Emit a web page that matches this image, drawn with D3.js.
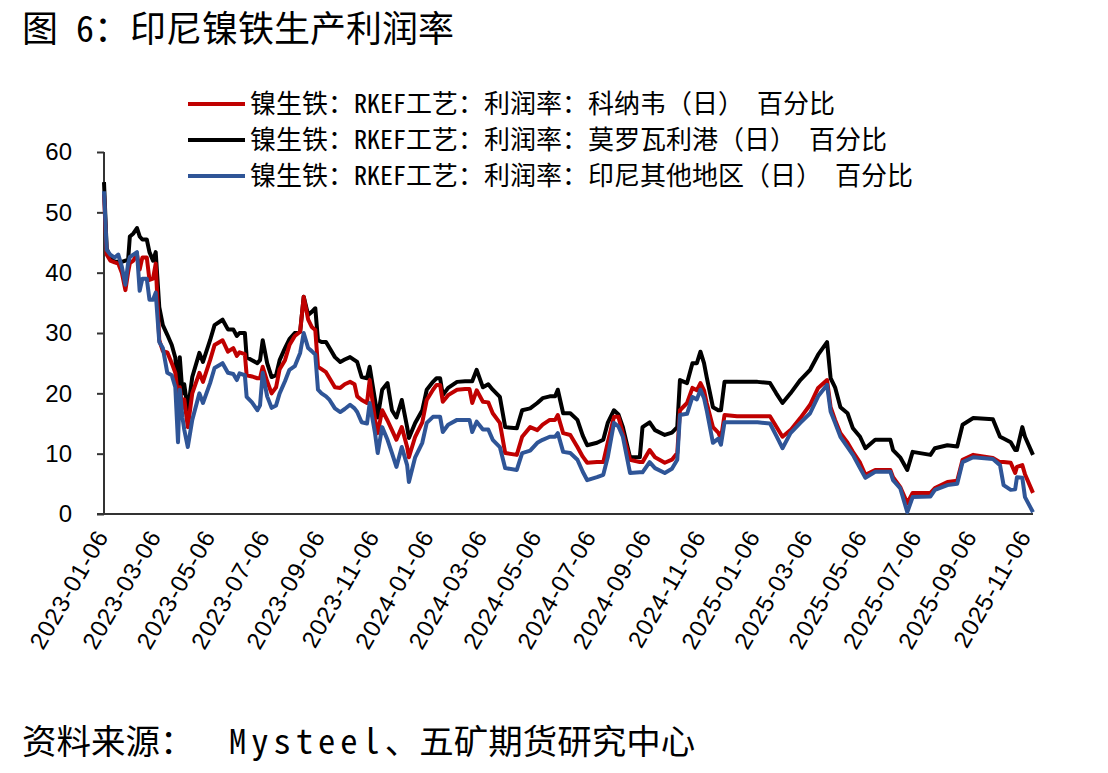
<!DOCTYPE html>
<html>
<head>
<meta charset="utf-8">
<script src="https://cdn.jsdelivr.net/npm/d3@7"></script>
<style>
  body { margin: 0; background: #fff; }
  svg text { font-family: "Liberation Sans", Arial, sans-serif; }
  .cjk { font-family: "Noto Sans Mono CJK SC", "Noto Sans CJK SC", sans-serif !important; white-space: pre; }
</style>
</head>
<body>
<div id="chart"></div>
<script>
var dates = [
  "2023-01-06","2023-01-09","2023-01-13","2023-01-18","2023-01-22","2023-01-26","2023-01-30","2023-02-02","2023-02-04","2023-02-08",
  "2023-02-12","2023-02-15","2023-02-18","2023-02-23","2023-02-26","2023-03-02","2023-03-05","2023-03-09","2023-03-13","2023-03-18",
  "2023-03-23","2023-03-27","2023-03-30","2023-04-01","2023-04-04","2023-04-06","2023-04-10","2023-04-15","2023-04-23","2023-04-27",
  "2023-05-05","2023-05-10","2023-05-19","2023-05-25","2023-05-31","2023-06-04","2023-06-07","2023-06-13","2023-06-15","2023-06-21",
  "2023-06-27","2023-06-30","2023-07-03","2023-07-08","2023-07-13","2023-07-18","2023-07-22","2023-07-28","2023-08-02","2023-08-08",
  "2023-08-14","2023-08-18","2023-08-23","2023-08-27","2023-08-31","2023-09-03","2023-09-07","2023-09-12","2023-09-16","2023-09-22",
  "2023-09-28","2023-10-03","2023-10-09","2023-10-14","2023-10-17","2023-10-22","2023-10-28","2023-10-31","2023-11-06","2023-11-09",
  "2023-11-14","2023-11-20","2023-11-25","2023-11-30","2023-12-06","2023-12-12","2023-12-14","2023-12-21","2023-12-29","2024-01-03",
  "2024-01-10","2024-01-14","2024-01-18","2024-01-21","2024-01-27","2024-02-06","2024-02-15","2024-02-20","2024-02-23","2024-02-28",
  "2024-03-06","2024-03-12","2024-03-17","2024-03-25","2024-03-31","2024-04-13","2024-04-19","2024-04-28","2024-05-06","2024-05-12",
  "2024-05-20","2024-05-26","2024-05-29","2024-06-04","2024-06-12","2024-06-20","2024-06-26","2024-07-01","2024-07-12","2024-07-19",
  "2024-07-24","2024-07-31","2024-08-05","2024-08-10","2024-08-18","2024-08-29","2024-09-01","2024-09-09","2024-09-15","2024-09-26",
  "2024-10-04","2024-10-10","2024-10-13","2024-10-21","2024-10-27","2024-11-01","2024-11-05","2024-11-09","2024-11-12","2024-11-19",
  "2024-11-25","2024-11-28","2024-12-02","2024-12-16","2025-01-08","2025-01-22","2025-01-29","2025-02-05","2025-02-14","2025-02-25",
  "2025-03-08","2025-03-17","2025-03-27","2025-03-31","2025-04-05","2025-04-11","2025-04-19","2025-04-25","2025-05-03","2025-05-09",
  "2025-05-20","2025-06-06","2025-06-09","2025-06-17","2025-06-25","2025-07-01","2025-07-21","2025-07-26","2025-08-09","2025-08-20",
  "2025-08-26","2025-09-07","2025-09-29","2025-10-07","2025-10-11","2025-10-19","2025-10-24","2025-10-26","2025-11-01","2025-11-04",
  "2025-11-13"
];

// 科纳韦 (red)
var konawe = [
  53, 43, 42, 41.7, 41.5, 40, 37.1, 40, 41.6, 42,
  43, 40.5, 42.5, 42.5, 38.8, 39, 41.5, 28.8, 27, 26.8,
  25, 23.4, 19.4, 21, 17.6, 19, 14.4, 20, 23.4, 21.9,
  25.5, 28, 28.8, 26.9, 27.5, 26.2, 26.8, 26.5, 23, 22.8,
  22.5, 22.5, 24.4, 22, 20, 21, 24, 25.5, 28, 29.5,
  30.2, 36, 32.2, 31, 30.5, 24.4, 24, 23.5, 22.5, 21,
  20.9, 21.5, 21.9, 21.5, 19.5, 18.9, 18.4, 22.2, 15.6, 13.4,
  17.2, 15.5, 13.9, 12.3, 14.4, 11.1, 9.4, 12.8, 15.2, 18.9,
  20.6, 21.4, 21.4, 18.6, 19.7, 20.6, 20.7, 20.7, 18.4, 20.5,
  18.6, 18.5, 16.7, 15.1, 10.1, 9.8, 12.8, 14.4, 13.9, 14.8,
  15.6, 15.6, 16.4, 13.4, 13.1, 11.1, 9.5, 8.5, 8.6, 8.6,
  11.8, 16.1, 16.1, 13.4, 9, 8.6, 8.6, 10.6, 9.4, 8.5,
  9, 10.1, 17.2, 18.4, 20.9, 20.5, 21.7, 20.5, 18.4, 14.4,
  13.5, 12.5, 16.4, 16.2, 16.2, 16.2, 14.5, 12.8, 13.9, 15.9,
  18.1, 20.9, 22.2, 17.7, 15.6, 13.4, 11.8, 10.3, 8.5, 6.5,
  7.3, 7.3, 6.1, 4.5, 1.8, 3.5, 3.5, 4.3, 5.3, 5.5,
  9, 9.8, 9.3, 8.6, 8.6, 8.5, 6.8, 7.8, 8.1, 6.6,
  3.5
];

// 莫罗瓦利港 (black)
var morowali = [
  55, 44, 42.5, 41.8, 41.8, 41.8, 42, 42, 46, 46.5,
  47.4, 46, 45.5, 45.5, 43.4, 42, 43.4, 34.3, 31.3, 29.7,
  28, 25.9, 20.6, 26, 20, 21.5, 17.2, 22.7, 26.7, 25.2,
  28.8, 31.3, 32.2, 30.6, 30.6, 29.5, 30, 30, 26, 25.5,
  25, 25.5, 28.8, 25, 22.7, 23, 25.5, 27.5, 29, 30,
  30.2, 36, 33, 33.5, 34.1, 28.8, 28.5, 28.5, 27.5, 26,
  25.2, 25.6, 26, 25.5, 25.2, 22.7, 22.5, 24.4, 18.9, 16,
  20.6, 21.7, 17.2, 16, 18.9, 14.4, 12.6, 15.1, 17.2, 20.6,
  21.9, 22.5, 22.5, 19.7, 20.9, 21.9, 22, 22, 22, 23.9,
  21, 21.5, 20.6, 19.4, 14.4, 14.2, 17.2, 17.5, 18.4, 19.2,
  19.5, 19.5, 20.6, 16.7, 16.7, 15.6, 13, 11.4, 11.8, 12.3,
  15.1, 17.2, 16.5, 14.4, 9.4, 9.4, 14.4, 15.2, 13.9, 13.1,
  13.5, 14.4, 22.2, 21.7, 25, 25, 26.9, 25, 22.7, 17.7,
  17.2, 17.2, 21.9, 21.9, 21.9, 21.7, 20, 18.4, 20, 22.2,
  23.9, 26.4, 28.5, 22.5, 21, 17.7, 16.7, 14.2, 12.8, 10.9,
  12.3, 12.3, 10.6, 9.4, 7.3, 10.3, 9.8, 10.9, 11.4, 11.2,
  14.8, 15.9, 15.7, 12.8, 12.5, 11.9, 10.6, 10.6, 14.4, 12.8,
  9.8
];

// 印尼其他地区 (blue)
var otherRegions = [
  53.5, 43.8, 43, 42.5, 43, 41, 38, 41.5, 42.6, 43,
  43.4, 37, 39, 39, 35.5, 35.5, 36.7, 28.5, 27.5, 23.4,
  23, 21, 11.9, 20.6, 16, 14, 11.1, 15.6, 20, 18.4,
  21.7, 24.2, 25, 23.4, 23.2, 22.2, 23.3, 23, 19.4, 18.5,
  17.2, 18, 23.4, 19.5, 17.6, 18, 20, 22, 23.9, 24.5,
  26.7, 30, 27.5, 27, 26.4, 20.6, 20, 19.5, 18.9, 17.5,
  16.9, 17.4, 18.1, 17.5, 16.9, 15.2, 15, 18.4, 13.4, 10.1,
  14.4, 12.3, 10.1, 7.8, 11.1, 8.1, 5.3, 9.4, 11.8, 15.1,
  16.1, 16.1, 16.1, 13.6, 14.8, 15.6, 15.6, 15.6, 13.6, 15.3,
  14, 14, 12.3, 11.1, 7.6, 7.3, 10.1, 10.5, 11.8, 12.3,
  12.8, 12.8, 13.4, 10.3, 10.1, 9, 7, 5.6, 6.1, 6.5,
  9.4, 15.1, 14.5, 12.8, 6.8, 6.9, 6.9, 8.6, 7.6, 6.8,
  7.5, 9, 16.4, 16.6, 19.4, 19, 20.6, 19.2, 17.2, 11.8,
  12.5, 11.5, 15.2, 15.2, 15.2, 15, 13, 10.9, 13.4, 15.1,
  16.7, 19.5, 21.4, 17, 15.1, 12.8, 11.1, 9.8, 7.6, 6,
  7, 7, 5.6, 4.3, 0.3, 2.8, 2.9, 4, 4.8, 5,
  8.6, 9.4, 9.1, 8.1, 4.8, 4, 4.1, 6.1, 6, 2.8,
  0.3
];

var yTicks = [0, 10, 20, 30, 40, 50, 60];
var xTickLabels = [
  "2023-01-06","2023-03-06","2023-05-06","2023-07-06","2023-09-06","2023-11-06",
  "2024-01-06","2024-03-06","2024-05-06","2024-07-06","2024-09-06","2024-11-06",
  "2025-01-06","2025-03-06","2025-05-06","2025-07-06","2025-09-06","2025-11-06"
];
var seriesNames = [
  "镍生铁：RKEF工艺：利润率：科纳韦（日） 百分比",
  "镍生铁：RKEF工艺：利润率：莫罗瓦利港（日） 百分比",
  "镍生铁：RKEF工艺：利润率：印尼其他地区（日） 百分比"
];
var seriesColors = ["#c00000", "#000000", "#2f5597"];
var titleText = "图 6：印尼镍铁生产利润率";
var sourceParts = ["资料来源：  ", "Mysteel", "、五矿期货研究中心"];

var width = 1108, height = 773;
var parse = d3.timeParse("%Y-%m-%d");

var svg = d3.select("#chart").append("svg")
  .attr("width", width)
  .attr("height", height);

var x = d3.scaleTime()
  .domain([parse(dates[0]), parse(dates[dates.length - 1])])
  .range([104, 1033]);
var y = d3.scaleLinear()
  .domain([0, 60])
  .range([514, 152]);

// axes
var yAxis = svg.append("g")
  .attr("transform", "translate(104,0)")
  .call(d3.axisLeft(y).tickValues(yTicks).tickSize(7).tickPadding(25));
yAxis.selectAll("text").attr("font-size", 24).attr("fill", "#000");
yAxis.selectAll("line, path").attr("stroke", "#333").attr("stroke-width", 2);
yAxis.select(".domain").attr("d", "M0,152V514");

var xAxis = svg.append("g")
  .attr("transform", "translate(0,514)")
  .call(d3.axisBottom(x)
    .tickValues(xTickLabels.map(parse))
    .tickFormat(d3.timeFormat("%Y-%m-%d"))
    .tickSize(0)
    .tickPadding(0));
xAxis.select(".domain").attr("stroke", "#333").attr("stroke-width", 2).attr("d", "M97,0H1033");
xAxis.selectAll(".tick text")
  .attr("font-size", 24)
  .attr("letter-spacing", 1)
  .attr("fill", "#000")
  .attr("text-anchor", "end")
  .attr("y", 0)
  .attr("dy", 0)
  .attr("transform", "translate(5,22) rotate(-60)");

// lines: black first, then red, blue on top
var line = d3.line()
  .x(function(d) { return x(d.date); })
  .y(function(d) { return y(d.value); });

function toPoints(values) {
  return values.map(function(v, i) { return { date: parse(dates[i]), value: v }; });
}

var drawOrder = [
  { values: morowali, color: seriesColors[1] },
  { values: konawe, color: seriesColors[0] },
  { values: otherRegions, color: seriesColors[2] }
];
svg.append("g").selectAll("path")
  .data(drawOrder)
  .enter().append("path")
  .attr("d", function(d) { return line(toPoints(d.values)); })
  .attr("fill", "none")
  .attr("stroke", function(d) { return d.color; })
  .attr("stroke-width", 4)
  .attr("stroke-linejoin", "round");

// legend
var legend = svg.append("g").selectAll("g")
  .data(seriesNames)
  .enter().append("g")
  .attr("transform", function(d, i) { return "translate(188," + (104 + i * 36) + ")"; });
legend.append("line")
  .attr("x1", 0).attr("x2", 57)
  .attr("stroke", function(d, i) { return seriesColors[i]; })
  .attr("stroke-width", 4);
legend.append("text")
  .attr("class", "cjk")
  .attr("x", 62)
  .attr("dy", "0.36em")
  .attr("font-size", 26)
  .attr("fill", "#000")
  .text(function(d) { return d; });

// title and source
svg.append("text")
  .attr("class", "cjk")
  .attr("x", 22).attr("y", 42)
  .attr("font-size", 36)
  .text(titleText);
var source = svg.append("text")
  .attr("class", "cjk")
  .attr("x", 22).attr("y", 754)
  .attr("font-size", 34.5);
source.selectAll("tspan")
  .data(sourceParts)
  .enter().append("tspan")
  .attr("letter-spacing", function(d, i) { return i === 1 ? 5 : 0; })
  .text(function(d) { return d; });
</script>
</body>
</html>
